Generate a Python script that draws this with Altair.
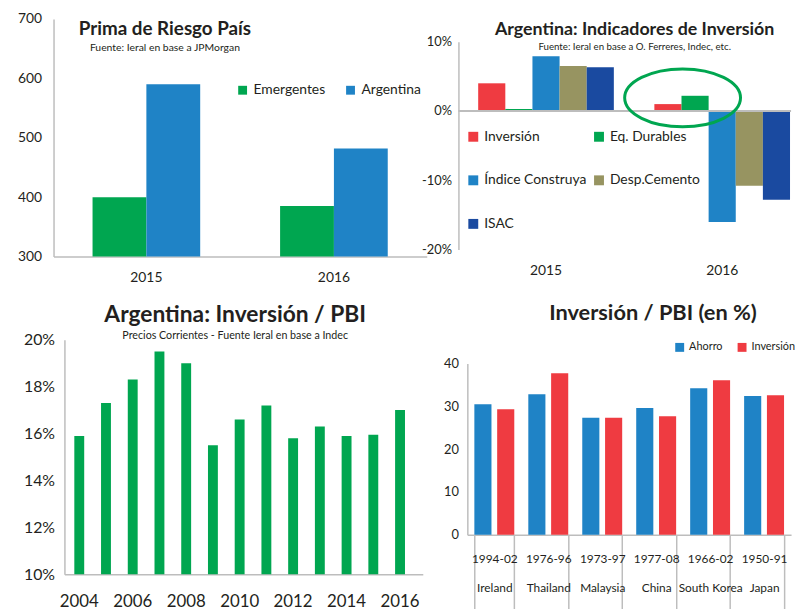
import altair as alt
import pandas as pd

FONT = "Lato"
TXT = "#231f20"
GRAY = "#bdbdbd"
GREEN = "#00a650"
BLUE = "#1f83c6"
RED = "#ef3b41"
OLIVE = "#979461"
DARKBLUE = "#1a4aa0"

# ---- Panel 1: Prima de Riesgo País ----
p1_years = ["2015", "2016"]
p1_series = ["Emergentes", "Argentina"]
p1_emergentes = [400, 385]
p1_argentina = [590, 482]
p1_ticks = [300, 400, 500, 600, 700]

# ---- Panel 2: Indicadores de Inversión ----
p2_years = ["2015", "2016"]
p2_series = ["Inversión", "Eq. Durables", "Índice Construya", "Desp.Cemento", "ISAC"]
p2_2015 = [4.0, 0.3, 7.9, 6.5, 6.3]
p2_2016 = [1.0, 2.2, -16.0, -10.8, -12.8]
p2_colors = [RED, GREEN, BLUE, OLIVE, DARKBLUE]
p2_ticks = [-20, -15, -10, -5, 0, 5, 10]
ann_year = ["2016"]
ann_value = [1.9]

# ---- Panel 3: Inversión / PBI Argentina ----
p3_years = ["2004", "2005", "2006", "2007", "2008", "2009", "2010",
            "2011", "2012", "2013", "2014", "2015", "2016"]
p3_values = [15.9, 17.3, 18.3, 19.5, 19.0, 15.5, 16.6, 17.2, 15.8, 16.3, 15.9, 15.95, 17.0]
p3_ticks = [10, 12, 14, 16, 18, 20]

# ---- Panel 4: Inversión / PBI (en %) ----
p4_periods = ["1994-02", "1976-96", "1973-97", "1977-08", "1966-02", "1950-91"]
p4_countries = ["Ireland", "Thailand", "Malaysia", "China", "South Korea", "Japan"]
p4_series = ["Ahorro", "Inversión"]
p4_ahorro = [30.5, 32.8, 27.3, 29.6, 34.2, 32.4]
p4_inversion = [29.3, 37.7, 27.3, 27.7, 36.1, 32.6]
p4_ticks = [0, 10, 20, 30, 40]

# Panel 1
df1 = pd.DataFrame({
    "year": p1_years * 2,
    "serie": [p1_series[0]] * 2 + [p1_series[1]] * 2,
    "value": p1_emergentes + p1_argentina,
})
p1 = alt.Chart(df1, title=alt.Title(
    "Prima de Riesgo País", subtitle="Fuente: Ieral en base a JPMorgan",
    anchor="middle", frame="group", dx=-76, dy=42, offset=0,
    fontSize=19, fontWeight="bold", subtitleFontSize=10.5, subtitlePadding=4,
)).mark_bar().encode(
    x=alt.X("year:N", scale=alt.Scale(paddingInner=0.426, paddingOuter=0.208),
            axis=alt.Axis(title=None, labelAngle=0, ticks=False, labelFontSize=14,
                          labelPadding=14, domainColor=GRAY, domainWidth=1.5)),
    xOffset=alt.XOffset("serie:N", sort=p1_series, scale=alt.Scale(paddingInner=0, paddingOuter=0)),
    y=alt.Y("value:Q", scale=alt.Scale(domain=[300, 700], nice=False, zero=False),
            axis=alt.Axis(title=None, values=p1_ticks, grid=False, ticks=False, labelFontSize=14,
                          labelPadding=12, domainColor=GRAY, domainWidth=1.5)),
    y2=alt.datum(300),
    color=alt.Color("serie:N", sort=p1_series,
                    scale=alt.Scale(domain=p1_series, range=[GREEN, BLUE]),
                    legend=alt.Legend(title=None, orient="none", direction="horizontal",
                                      legendX=184, legendY=65, symbolType="square",
                                      symbolSize=80, symbolStrokeWidth=0, labelFontSize=14,
                                      columnPadding=18, labelOffset=4)),
).properties(width=377, height=240)

# Panel 2
df2 = pd.DataFrame({
    "year": [p2_years[0]] * 5 + [p2_years[1]] * 5,
    "serie": p2_series * 2,
    "value": p2_2015 + p2_2016,
})
bars2 = alt.Chart(df2).mark_bar().encode(
    x=alt.X("year:N", scale=alt.Scale(paddingInner=0.23, paddingOuter=0.059, align=0.95),
            axis=alt.Axis(title=None, labelAngle=0, ticks=False, domain=False, labelFontSize=14,
                          labelPadding=7)),
    xOffset=alt.XOffset("serie:N", sort=p2_series, scale=alt.Scale(paddingInner=0, paddingOuter=0)),
    y=alt.Y("value:Q", scale=alt.Scale(domain=[-20, 10], nice=False, range=[233, 23]),
            axis=alt.Axis(title=None, values=p2_ticks, grid=False, ticks=False, labelFontSize=13,
                          labelPadding=7, labelExpr="datum.value + '%'",
                          domainColor=GRAY, domainWidth=1.5)),
    color=alt.Color("serie:N", sort=p2_series,
                    scale=alt.Scale(domain=p2_series, range=p2_colors),
                    legend=alt.Legend(title=None, orient="none", columns=2, direction="horizontal",
                                      legendX=8, legendY=112, symbolType="square", symbolSize=100,
                                      symbolStrokeWidth=0, labelFontSize=14, rowPadding=30,
                                      columnPadding=5, labelOffset=4, labelLimit=300)),
)
zero2 = alt.Chart(pd.DataFrame({"z": [0]})).mark_rule(color=GRAY, strokeWidth=2).encode(y=alt.datum(0))
ell = alt.Chart(pd.DataFrame({"year": ann_year, "value": ann_value})).mark_point(
    shape="M -1 0 A 1 0.5 0 1 1 1 0 A 1 0.5 0 1 1 -1 0 Z",
    size=13700, filled=False, stroke=GREEN, strokeWidth=3, opacity=1, xOffset=-40,
).encode(x="year:N", y="value:Q")
p2 = alt.layer(bars2, zero2, ell, title=alt.Title(
    "Argentina: Indicadores de Inversión",
    subtitle="Fuente: Ieral en base a O. Ferreres, Indec, etc.",
    anchor="middle", frame="group", dx=10, dy=33, offset=0,
    fontSize=18, fontWeight="bold", subtitleFontSize=9.8, subtitlePadding=3,
)).properties(width=336, height=240)

# Panel 3
df3 = pd.DataFrame({"year": p3_years, "value": p3_values})
p3 = alt.Chart(df3, title=alt.Title(
    "Argentina: Inversión / PBI",
    subtitle="Precios Corrientes - Fuente Ieral en base a Indec",
    anchor="middle", frame="group", dx=-5.5, dy=9, offset=0,
    fontSize=23, fontWeight="bold", subtitleFontSize=10.8, subtitlePadding=3,
)).mark_bar(color=GREEN).encode(
    x=alt.X("year:N", scale=alt.Scale(paddingInner=0.63, paddingOuter=0.518, align=0.357,
                                      range=[11, 373]),
            axis=alt.Axis(title=None, labelAngle=0, ticks=False, labelFontSize=17, labelPadding=19,
                          labelOverlap=False,
                          labelExpr="toNumber(datum.value) % 2 == 0 ? datum.label : ''",
                          domainColor=GRAY, domainWidth=1.5)),
    y=alt.Y("value:Q", scale=alt.Scale(domain=[10, 20], nice=False, zero=False),
            axis=alt.Axis(title=None, values=p3_ticks, grid=False, ticks=False, labelFontSize=16,
                          labelPadding=10, labelExpr="datum.value + '%'", offset=-11,
                          domainColor=GRAY, domainWidth=1.5)),
    y2=alt.datum(10),
).properties(width=378, height=237)

# Panel 4
cats = [p + "|" + c for p, c in zip(p4_periods, p4_countries)]
df4 = pd.DataFrame({
    "cat": cats * 2,
    "serie": [p4_series[0]] * 6 + [p4_series[1]] * 6,
    "value": p4_ahorro + p4_inversion,
})
p4 = alt.Chart(df4, title=alt.Title(
    "Inversión / PBI (en %)", anchor="middle", frame="group", dx=28.5, offset=15,
    fontSize=22, fontWeight="bold",
)).mark_bar().encode(
    x=alt.X("cat:N", sort=cats, scale=alt.Scale(paddingInner=0.26, paddingOuter=0.13, range=[9, 336]),
            axis=alt.Axis(title=None, labelAngle=0, tickBand="extent", tickSize=75,
                          tickColor=GRAY, tickWidth=1.5, labelFontSize=12,
                          labelPadding=-56, labelLineHeight=29,
                          labelExpr="split(datum.label, '|')",
                          labelBaseline="top", domainColor=GRAY, domainWidth=1.5)),
    xOffset=alt.XOffset("serie:N", sort=p4_series, scale=alt.Scale(paddingInner=0.25, paddingOuter=0)),
    y=alt.Y("value:Q", scale=alt.Scale(domain=[0, 40], nice=False, range=[197, 24]),
            axis=alt.Axis(title=None, values=p4_ticks, grid=False, ticks=False, labelFontSize=13,
                          labelPadding=9, offset=-9, domainColor=GRAY, domainWidth=1.5)),
    color=alt.Color("serie:N", sort=p4_series,
                    scale=alt.Scale(domain=p4_series, range=[BLUE, RED]),
                    legend=alt.Legend(title=None, orient="none", direction="horizontal",
                                      legendX=218, legendY=2, symbolType="square", symbolSize=81,
                                      symbolStrokeWidth=0, labelFontSize=11, columnPadding=14,
                                      labelOffset=4)),
).properties(width=336, height=197)

chart = alt.concat(
    p1, p2, p3, p4, columns=2, spacing={"row": 84, "column": 31}, bounds="flush"
).resolve_scale(
    x="independent", y="independent", color="independent", xOffset="independent"
).resolve_legend(color="independent").properties(
    padding={"left": 9, "top": 0, "right": 0, "bottom": 0}
).configure(font=FONT).configure_view(stroke="transparent").configure_axis(
    labelColor=TXT, labelFont=FONT
).configure_legend(labelFont=FONT, labelColor=TXT).configure_title(
    font=FONT, color=TXT, subtitleColor=TXT, subtitleFont=FONT)

chart.save("out.html", embed_options={"renderer": "svg", "actions": False})
